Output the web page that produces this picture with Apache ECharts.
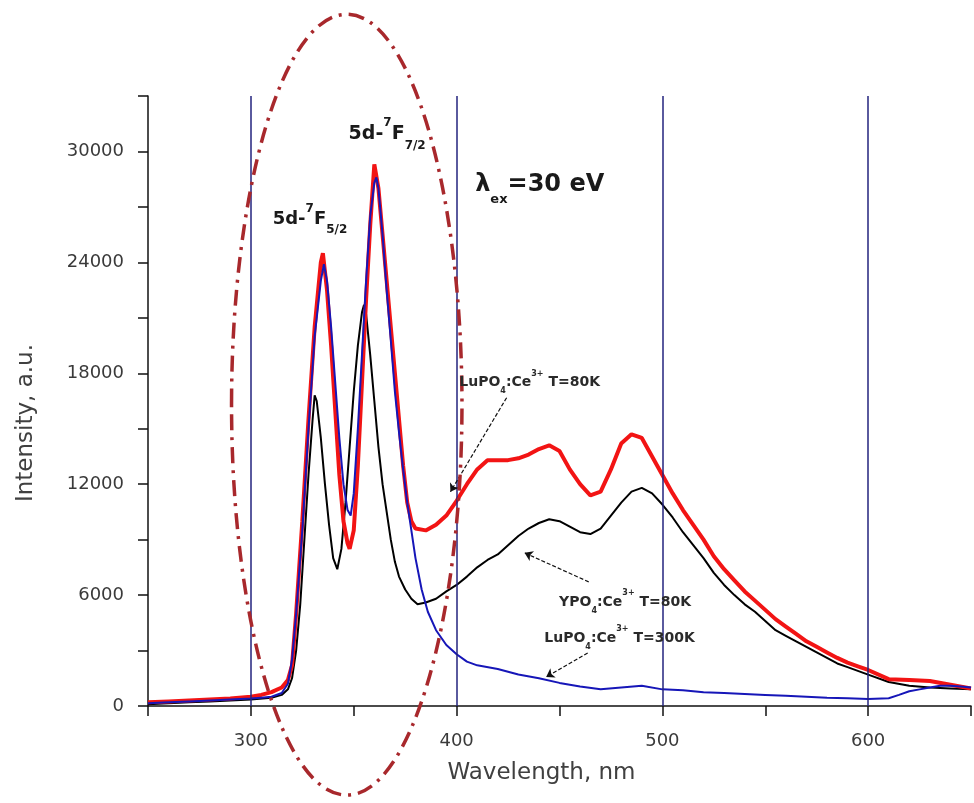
<!DOCTYPE html>
<html><head><meta charset="utf-8">
<script src="https://cdn.jsdelivr.net/npm/echarts@6/dist/echarts.min.js"></script>
<style>html,body{margin:0;padding:0;background:#fff}#c{width:974px;height:803px}</style>
</head><body><div id="c"></div>
<script>
// ---- data ----
const blackX = [250,260,270,280,290,300,310,315,318,320,322,324,326,328,330,331,332,334,336,338,340,342,344,346,348,350,352,354,355,356,358,360,362,364,366,368,370,372,375,378,381,385,390,395,400,405,410,415,420,425,430,435,440,445,450,455,460,465,470,475,480,485,490,495,500,505,510,515,520,525,530,535,540,545,550,555,560,565,570,575,580,585,590,595,600,610,620,630,640,650];
const blackY = [100,150,200,250,300,350,450,600,900,1500,3000,5500,9000,12500,15500,16800,16500,14500,12000,9800,8000,7400,8500,11000,14000,17000,19500,21300,21700,21200,19000,16500,14000,12000,10500,9000,7800,7000,6300,5800,5500,5600,5800,6200,6550,7000,7500,7900,8200,8700,9200,9600,9900,10100,10000,9700,9400,9300,9600,10300,11000,11600,11800,11500,10900,10200,9400,8700,8000,7200,6550,6000,5500,5100,4600,4100,3800,3500,3200,2900,2600,2300,2100,1900,1700,1300,1100,1000,950,900];

const redX = [250,260,270,280,290,300,305,310,315,318,320,322,325,328,331,334,335,337,339,341,343,345,347,348,350,352,354,356,358,360,362,364,366,368,370,372,374,376,378,380,385,390,395,400,405,410,415,420,425,430,435,440,445,450,455,460,465,470,475,480,485,490,495,500,505,510,515,520,525,530,535,540,545,550,555,560,565,570,575,580,585,590,595,600,610,620,630,640,650];
const redY = [200,250,300,350,400,500,600,750,1000,1400,2200,5000,10000,15500,20500,24000,24500,22500,19500,16000,12500,10000,8800,8500,9500,13000,17500,22000,26000,29300,28000,25500,23000,20500,18000,15500,13000,11000,10000,9600,9500,9800,10300,11100,12000,12800,13300,13300,13300,13400,13600,13900,14100,13800,12800,12000,11400,11600,12800,14200,14700,14500,13500,12500,11500,10600,9800,9000,8100,7400,6800,6200,5700,5200,4700,4300,3900,3500,3200,2900,2600,2350,2150,1950,1450,1400,1350,1150,950];

const blueX = [250,260,270,280,290,300,305,310,315,318,320,322,325,328,331,334,335.5,337,339,341,343,345,347,348.5,350,352,354,356,358,360,361,362,364,366,368,370,372,374,376,378,380,383,386,390,395,400,405,410,420,430,440,450,460,470,480,490,500,510,520,530,540,550,560,570,580,590,600,610,615,620,625,630,635,640,645,650];
const blueY = [150,200,250,300,350,400,450,500,700,1200,2500,5000,9500,15000,20000,23000,23900,23000,20500,17500,14500,12000,10600,10300,11500,15000,19000,23000,26500,28300,28600,28000,25500,22500,19800,17000,14800,12800,11000,9500,8000,6300,5100,4100,3300,2800,2400,2200,2000,1700,1500,1250,1050,900,1000,1100,900,850,750,700,650,600,550,500,450,420,380,420,600,800,900,1000,1100,1100,1050,1000];

const xTicks = {min: 250, max: 650, step: 50, labelStep: 100};
const yTicks = {min: 0, max: 33000, step: 3000, labelStep: 6000};
const gridLinesX = [300, 400, 500, 600];

// annotations in data coordinates
const arrows = [
  [[424.3, 16678], [397.0, 11588]],
  [[464.2, 6715], [433.0, 8285]],
  [[463.7, 2870], [443.5, 1570]]
];
const ellipseData = {cx: 346.6, cy: 16300, rxNm: 56.0, ryVal: 21120};

function pairs(xs, ys){ return xs.map((x,i)=>[x, ys[i]]); }

const chart = echarts.init(document.getElementById('c'));
const FONT = '"DejaVu Sans", sans-serif';

chart.setOption({
  animation: false,
  backgroundColor: '#ffffff',
  grid: {left: 148, right: -6, top: 96, bottom: 97},
  xAxis: {
    type: 'value', min: xTicks.min, max: xTicks.max, interval: xTicks.step,
    name: 'Wavelength, nm', nameLocation: 'middle', nameGap: 56,
    nameTextStyle: {fontFamily: FONT, fontSize: 23, color: '#404040', padding: [0, 36, 0, 0]},
    axisLine: {show: true, lineStyle: {color: '#111', width: 1.5}},
    axisTick: {show: true, inside: false, length: 10, lineStyle: {color: '#111', width: 1.5}},
    axisLabel: {margin: 26, fontFamily: FONT, fontSize: 18, color: '#3a3a3a',
      formatter: v => (v % xTicks.labelStep === 0 ? String(v) : '')},
    splitLine: {show: false}
  },
  yAxis: {
    type: 'value', min: yTicks.min, max: yTicks.max, interval: yTicks.step,
    name: 'Intensity, a.u.', nameLocation: 'middle', nameGap: 110, nameRotate: 90,
    nameTextStyle: {fontFamily: FONT, fontSize: 23, color: '#404040', padding: [0, 44, 0, 0]},
    axisLine: {show: true, lineStyle: {color: '#111', width: 1.5}},
    axisTick: {show: true, inside: false, length: 10, lineStyle: {color: '#111', width: 1.5}},
    axisLabel: {margin: 24, fontFamily: FONT, fontSize: 18, color: '#3a3a3a',
      formatter: v => (v % yTicks.labelStep === 0 ? String(v) : '')},
    splitLine: {show: false}
  },
  series: [
    {
      name: 'YPO4:Ce3+ T=80K', type: 'line', data: pairs(blackX, blackY),
      showSymbol: false, lineStyle: {color: '#000', width: 2}, z: 2,
      markLine: {
        silent: true, symbol: ['none','none'], label: {show: false},
        lineStyle: {color: '#23237e', width: 1.5, type: 'solid'},
        data: gridLinesX.map(x => ({xAxis: x}))
      }
    },
    {
      name: 'LuPO4:Ce3+ T=80K', type: 'line', data: pairs(redX, redY),
      showSymbol: false, lineStyle: {color: '#f21414', width: 4}, z: 3
    },
    {
      name: 'LuPO4:Ce3+ T=300K', type: 'line', data: pairs(blueX, blueY),
      showSymbol: false, lineStyle: {color: '#1616b8', width: 2}, z: 4,
      markLine: {
        silent: true, symbol: ['none','arrow'], symbolSize: 8, label: {show: false},
        lineStyle: {color: '#111', width: 1.2, type: [4, 2]},
        data: arrows.map(a => [{coord: a[0]}, {coord: a[1]}])
      }
    }
  ]
});

// text annotations (data coordinates of left/middle anchor)
const P = (x, y) => chart.convertToPixel({gridIndex: 0}, [x, y]);
function richLabel(x, y, text, size, subSize, color){
  const p = P(x, y);
  return {
    type: 'text', x: p[0], y: p[1], z: 100,
    style: {
      text: text, verticalAlign: 'middle', align: 'left',
      rich: {
        b: {fontFamily: FONT, fontWeight: 'bold', fontSize: size, fill: color, lineHeight: size * 1.8, verticalAlign: 'middle'},
        sup: {fontFamily: FONT, fontWeight: 'bold', fontSize: subSize, fill: color, lineHeight: size * 1.8, verticalAlign: 'top'},
        sub: {fontFamily: FONT, fontWeight: 'bold', fontSize: subSize, fill: color, lineHeight: size * 1.8, verticalAlign: 'bottom'}
      }
    }
  };
}
const ec = P(ellipseData.cx, ellipseData.cy);
const ex = P(ellipseData.cx + ellipseData.rxNm, ellipseData.cy);
const ey = P(ellipseData.cx, ellipseData.cy + ellipseData.ryVal);

chart.setOption({
  graphic: [
    {
      type: 'ellipse', z: 90, silent: true,
      shape: {cx: ec[0], cy: ec[1], rx: ex[0] - ec[0], ry: ec[1] - ey[1]},
      style: {fill: 'none', stroke: '#a8282c', lineWidth: 3.5, lineDash: [16, 7, 3, 7]}
    },
    richLabel(347.5, 30920, '{b|5d-}{sup|7}{b|F}{sub|7/2}', 19, 12, '#1a1a1a'),
    richLabel(310.6, 26317, '{b|5d-}{sup|7}{b|F}{sub|5/2}', 18, 12, '#1a1a1a'),
    richLabel(409.0, 28212, '{b|λ}{sub|ex}{b|=30 eV}', 24, 13, '#1a1a1a'),
    richLabel(401.3, 17490, '{b|LuPO}{sub|4}{b|:Ce}{sup|3+}{b| T=80K}', 14, 8, '#2a2a2a'),
    richLabel(449.8, 5632, '{b|YPO}{sub|4}{b|:Ce}{sup|3+}{b| T=80K}', 14, 8, '#2a2a2a'),
    richLabel(442.6, 3682, '{b|LuPO}{sub|4}{b|:Ce}{sup|3+}{b| T=300K}', 14, 8, '#2a2a2a')
  ]
});
</script>
</body></html>
